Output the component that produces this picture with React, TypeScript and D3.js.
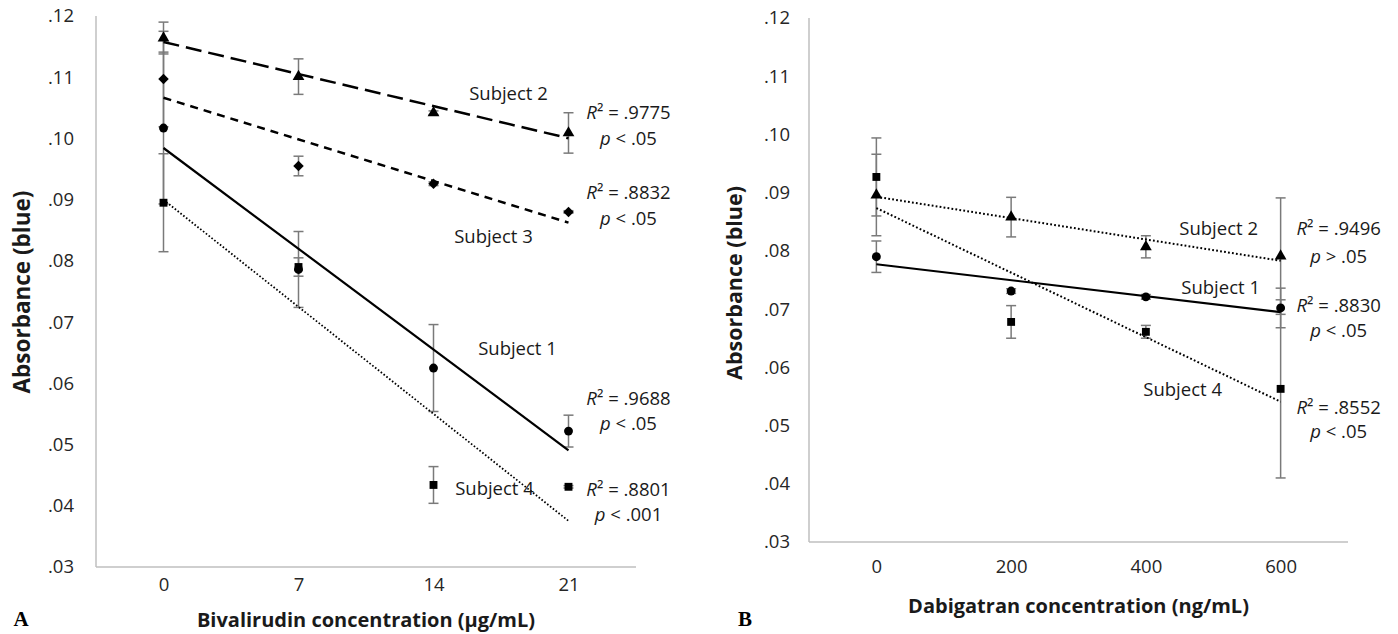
import React, { useEffect, useRef } from 'react'
import * as d3 from 'd3'

// panel A - bivalirudin
const bivCats = ['0', '7', '14', '21']
const bivS1 = [0.1017, 0.0786, 0.0625, 0.0522]
const bivS1Err = [0.0124, 0.0062, 0.0071, 0.0026]
const bivS2 = [0.1164, 0.1101, 0.1042, 0.1009]
const bivS2Err = [0.0026, 0.0029, 0.0003, 0.0033]
const bivS3 = [0.1097, 0.0955, 0.0926, 0.088]
const bivS3Err = [0.0078, 0.0016, 0.0003, 0.0002]
const bivS4 = [0.0895, 0.079, 0.0434, 0.0431]
const bivS4Err = [0.008, 0.0015, 0.003, 0.0002]
const bivR2 = ['.9775', '.8832', '.9688', '.8801']
const bivP = ['< .05', '< .05', '< .05', '< .001']

// panel B - dabigatran
const dabCats = ['0', '200', '400', '600']
const dabS1 = [0.079, 0.0731, 0.0721, 0.0702]
const dabS1Err = [0.0027, 0.0004, 0.0004, 0.0034]
const dabS2 = [0.0896, 0.0858, 0.0807, 0.0791]
const dabS2Err = [0.007, 0.0034, 0.0019, 0.01]
const dabS4 = [0.0927, 0.0678, 0.0661, 0.0563]
const dabS4Err = [0.0067, 0.0028, 0.0011, 0.0153]
const dabR2 = ['.9496', '.8830', '.8552']
const dabP = ['> .05', '< .05', '< .05']

const yTicks = [0.03, 0.04, 0.05, 0.06, 0.07, 0.08, 0.09, 0.1, 0.11, 0.12]

const font = "'Open Sans', 'Noto Sans', sans-serif"

function drawPanel(svg: any, p: any) {
  const x = d3.scalePoint<string>().domain(p.cats).range([p.left, p.right]).padding(0.5)
  const y = d3.scaleLinear().domain([0.03, 0.12]).range([p.bottom, p.top])
  const g = svg.append('g')

  // axis lines
  g.append('line')
    .attr('x1', p.left).attr('x2', p.left).attr('y1', p.top).attr('y2', p.bottom)
    .attr('stroke', '#bfbfbf').attr('stroke-width', 1.5)
  g.append('line')
    .attr('x1', p.left).attr('x2', p.right).attr('y1', p.bottom).attr('y2', p.bottom)
    .attr('stroke', '#bfbfbf').attr('stroke-width', 1.5)

  const yAxis = g.append('g')
    .attr('transform', `translate(${p.left},0)`)
    .call(d3.axisLeft(y).tickValues(yTicks).tickSize(0).tickPadding(p.yPad)
      .tickFormat((d: any) => d3.format('.2f')(d).replace(/^0/, '')))
  yAxis.select('.domain').remove()
  yAxis.attr('font-family', font).attr('font-size', 18.5)
  yAxis.selectAll('text').attr('fill', '#262626')

  const xAxis = g.append('g')
    .attr('transform', `translate(0,${p.bottom})`)
    .call(d3.axisBottom(x).tickSize(0).tickPadding(p.xPad))
  xAxis.select('.domain').remove()
  xAxis.attr('font-family', font).attr('font-size', 18.5)
  xAxis.selectAll('text').attr('fill', '#262626')

  // error bars
  p.series.forEach((s: any) => {
    s.values.forEach((v: number, i: number) => {
      const cx = x(p.cats[i])!
      const e = s.errors[i]
      const eg = g.append('g').attr('stroke', '#7a7a7a').attr('stroke-width', 1.5)
      eg.append('line').attr('x1', cx).attr('x2', cx).attr('y1', y(v - e)).attr('y2', y(v + e))
      eg.append('line').attr('x1', cx - 5).attr('x2', cx + 5).attr('y1', y(v - e)).attr('y2', y(v - e))
      eg.append('line').attr('x1', cx - 5).attr('x2', cx + 5).attr('y1', y(v + e)).attr('y2', y(v + e))
    })
  })

  // linear trendlines (least squares on category index)
  p.series.forEach((s: any) => {
    const idx = d3.range(s.values.length)
    const mx = d3.mean(idx)!
    const my = d3.mean(s.values as number[])!
    const slope = d3.sum(idx, i => (i - mx) * (s.values[i] - my)) / d3.sum(idx, i => (i - mx) ** 2)
    const ends = [0, idx.length - 1].map(i => [x(p.cats[i])!, y(my + slope * (i - mx))])
    g.append('path')
      .attr('d', d3.line()(ends as [number, number][]))
      .attr('fill', 'none')
      .attr('stroke', '#000')
      .attr('stroke-width', s.width)
      .attr('stroke-dasharray', s.dash)
  })

  // markers
  p.series.forEach((s: any) => {
    g.selectAll(null)
      .data(s.values)
      .enter()
      .append('path')
      .attr('d', d3.symbol().type(s.symbol).size(s.size))
      .attr('transform', (v: number, i: number) => `translate(${x(p.cats[i])},${y(v)})`)
      .attr('fill', '#000')
  })

  // annotations
  const xl = x(p.cats[p.cats.length - 1])!
  p.names.forEach((n: any) => {
    g.append('text')
      .attr('x', xl + n.dx).attr('y', y(n.v))
      .attr('text-anchor', 'middle').attr('dominant-baseline', 'central')
      .attr('font-family', font).attr('font-size', 18.5).attr('fill', '#1a1a1a')
      .text(n.text)
  })
  p.stats.forEach((st: any) => {
    const t1 = g.append('text')
      .attr('x', xl + p.statDx).attr('y', y(st.v1))
      .attr('text-anchor', 'middle').attr('dominant-baseline', 'central')
      .attr('font-family', font).attr('font-size', 18.5).attr('fill', '#1a1a1a')
    t1.append('tspan').attr('font-style', 'italic').text('R')
    t1.append('tspan').text(`² = ${st.r2}`)
    const t2 = g.append('text')
      .attr('x', xl + p.statDx).attr('y', y(st.v2))
      .attr('text-anchor', 'middle').attr('dominant-baseline', 'central')
      .attr('font-family', font).attr('font-size', 18.5).attr('fill', '#1a1a1a')
    t2.append('tspan').attr('font-style', 'italic').text('p')
    t2.append('tspan').text(` ${st.p}`)
  })

  // titles
  g.append('text')
    .attr('x', (p.left + p.right) / 2 + p.xTitleDx).attr('y', p.xTitleY)
    .attr('text-anchor', 'middle').attr('dominant-baseline', 'central')
    .attr('font-family', font).attr('font-size', 20).attr('font-weight', 'bold').attr('fill', '#1a1a1a')
    .text(p.xTitle)
  g.append('text')
    .attr('transform', `translate(${p.yTitleX},${p.yTitleY}) rotate(-90)`)
    .attr('text-anchor', 'middle').attr('dominant-baseline', 'central')
    .attr('font-family', font).attr('font-size', p.yTitleSize).attr('font-weight', 'bold').attr('fill', '#1a1a1a')
    .text('Absorbance (blue)')
  g.append('text')
    .attr('x', p.letterX).attr('y', 619)
    .attr('text-anchor', 'middle').attr('dominant-baseline', 'central')
    .attr('font-family', "'Liberation Serif', 'DejaVu Serif', serif").attr('font-size', 21).attr('font-weight', 'bold')
    .text(p.letter)
}

function App() {
  const svgRef = useRef<SVGSVGElement>(null)

  useEffect(() => {
    const svg = d3.select(svgRef.current)
    svg.selectAll('*').remove()

    drawPanel(svg, {
      cats: bivCats, left: 96, right: 636, top: 16, bottom: 567, yPad: 22, xPad: 11,
      xTitle: 'Bivalirudin concentration (μg/mL)', xTitleY: 619, xTitleDx: 0,
      yTitleX: 21, yTitleY: 292, yTitleSize: 22.5,
      letter: 'A', letterX: 21, statDx: 60,
      series: [
        { values: bivS2, errors: bivS2Err, symbol: d3.symbolTriangle, size: 60, dash: '16,7', width: 2.5 },
        { values: bivS3, errors: bivS3Err, symbol: d3.symbolDiamond2, size: 70, dash: '8,6', width: 2.5 },
        { values: bivS1, errors: bivS1Err, symbol: d3.symbolCircle, size: 62, dash: null, width: 2.2 },
        { values: bivS4, errors: bivS4Err, symbol: d3.symbolSquare, size: 62, dash: '1.6,2', width: 1.8 },
      ],
      names: [
        { text: 'Subject 2', dx: -60, v: 0.10745 },
        { text: 'Subject 3', dx: -75, v: 0.08408 },
        { text: 'Subject 1', dx: -51, v: 0.06578 },
        { text: 'Subject 4', dx: -74, v: 0.04291 },
      ],
      stats: [
        { r2: bivR2[0], p: bivP[0], v1: 0.10451, v2: 0.10026 },
        { r2: bivR2[1], p: bivP[1], v1: 0.09144, v2: 0.08719 },
        { r2: bivR2[2], p: bivP[2], v1: 0.05778, v2: 0.05369 },
        { r2: bivR2[3], p: bivP[3], v1: 0.04291, v2: 0.03882 },
      ],
    })

    drawPanel(svg, {
      cats: dabCats, left: 809, right: 1348, top: 18, bottom: 542, yPad: 19, xPad: 18,
      xTitle: 'Dabigatran concentration (ng/mL)', xTitleY: 605, xTitleDx: 0,
      yTitleX: 733, yTitleY: 283, yTitleSize: 21.5,
      letter: 'B', letterX: 745, statDx: 58,
      series: [
        { values: dabS2, errors: dabS2Err, symbol: d3.symbolTriangle, size: 60, dash: '1.8,2.2', width: 2 },
        { values: dabS1, errors: dabS1Err, symbol: d3.symbolCircle, size: 62, dash: null, width: 2.2 },
        { values: dabS4, errors: dabS4Err, symbol: d3.symbolSquare, size: 62, dash: '1.8,2.2', width: 2 },
      ],
      names: [
        { text: 'Subject 2', dx: -62, v: 0.0841 },
        { text: 'Subject 1', dx: -60, v: 0.0738 },
        { text: 'Subject 4', dx: -98, v: 0.05628 },
      ],
      stats: [
        { r2: dabR2[0], p: dabP[0], v1: 0.0841, v2: 0.0793 },
        { r2: dabR2[1], p: dabP[1], v1: 0.07088, v2: 0.06659 },
        { r2: dabR2[2], p: dabP[2], v1: 0.05336, v2: 0.04924 },
      ],
    })
  }, [])

  return (
    <div style={{ position: 'absolute', left: 0, top: 0, background: '#fff' }}>
      <svg ref={svgRef} width={1398} height={634} style={{ display: 'block' }}></svg>
    </div>
  )
}

export default App
